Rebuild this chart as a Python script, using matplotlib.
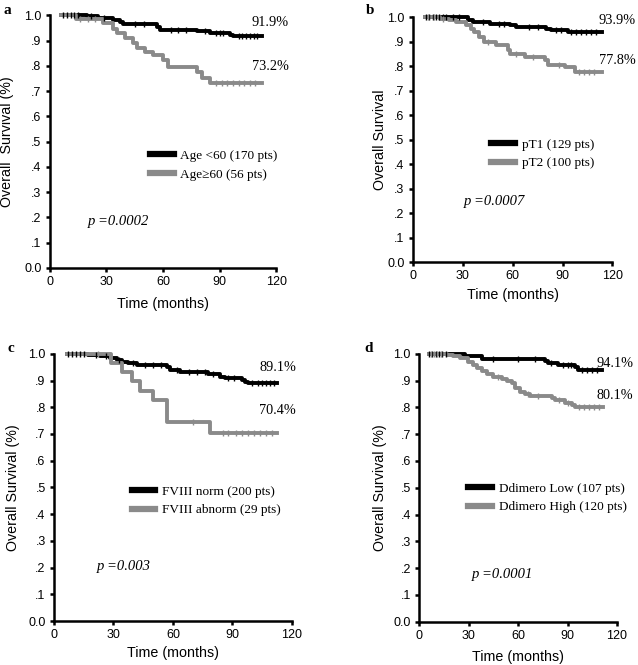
import matplotlib.pyplot as plt
import numpy as np

plt.rcParams['font.family'] = ['Liberation Sans', 'DejaVu Sans']
SERIF = ['Liberation Serif', 'DejaVu Serif']

# ---- data (time in months, survival fraction) ----
# a: age
a_low_t = [6, 19.5, 25.7, 33.6, 37.2, 39, 56.6, 58.4, 77.9, 85, 95.6, 97.3, 112.5]
a_low_s = [1.0, 0.997, 0.990, 0.981, 0.972, 0.964, 0.955, 0.943, 0.936, 0.929, 0.922, 0.919, 0.919]
a_high_t = [6, 14, 28.3, 33.6, 35.4, 39.8, 44.3, 46, 50.5, 54.9, 60.2, 62.8, 77.9, 80.5, 85, 112.4]
a_high_s = [1.0, 0.985, 0.968, 0.946, 0.929, 0.909, 0.889, 0.870, 0.856, 0.843, 0.823, 0.797,
            0.777, 0.751, 0.732, 0.732]
a_low_cens = [7, 9, 11, 13, 15, 22, 29, 45, 50, 64, 68, 72, 82, 88, 90, 92, 100, 102, 104, 106, 108, 110]
a_high_cens = [16, 20, 24, 88, 91, 94, 97, 100, 103, 106, 109]

# b: pT
b_t1_t = [7.2, 33.2, 36.2, 46.2, 58.2, 62.2, 80.2, 83.2, 93.2, 113.8]
b_t1_s = [1.0, 0.990, 0.981, 0.974, 0.967, 0.960, 0.954, 0.947, 0.940, 0.939]
b_t2_t = [7.2, 16.2, 22, 26, 32, 35, 37, 40, 43, 50, 57.2, 58.2, 67.2, 79.2, 81.2, 91.2, 97.2, 113.8]
b_t2_s = [1.0, 0.995, 0.990, 0.981, 0.967, 0.954, 0.940, 0.920, 0.899, 0.886, 0.865, 0.849,
          0.838, 0.824, 0.804, 0.795, 0.778, 0.778]
b_t1_cens = [8, 10, 12, 14, 16, 18, 20, 24, 28, 42, 52, 55, 70, 75, 86, 89, 95, 98, 101, 104, 107, 110]
b_t2_cens = [9, 13, 18, 45, 62, 72, 88, 100, 103, 106, 109]

# c: FVIII
c_norm_t = [6.4, 17.3, 23.2, 28.2, 31.6, 34.1, 37.5, 41.7, 56.9, 58.5, 63.5, 77.8, 83.7, 86.2,
            94.6, 96.3, 98, 112.3]
c_norm_s = [1.0, 0.995, 0.990, 0.984, 0.978, 0.971, 0.965, 0.959, 0.950, 0.940, 0.931, 0.925,
            0.915, 0.909, 0.903, 0.894, 0.891, 0.891]
c_abn_t = [6.4, 29, 34.1, 39.2, 43.4, 49.8, 56.9, 78.7, 112.3]
c_abn_s = [1.0, 0.966, 0.931, 0.897, 0.862, 0.828, 0.743, 0.704, 0.704]
c_norm_cens = [7, 9, 11, 13, 15, 21, 26, 33, 40, 46, 50, 54, 62, 68, 72, 76, 80, 88, 91, 100, 103,
               105, 107, 109, 111]
c_abn_cens = [22, 70, 85, 88, 92, 95, 98, 101, 104, 107, 110]

# d: D-dimer
d_low_t = [5.7, 27.9, 38, 76.4, 78.4, 84.4, 94.5, 96.6, 110.7]
d_low_s = [1.0, 0.993, 0.981, 0.974, 0.965, 0.959, 0.950, 0.941, 0.941]
d_high_t = [5.7, 16.8, 20.8, 24.8, 29.9, 32.9, 35, 38, 41, 45, 50.1, 53.1, 56.2, 58.2, 61.2, 64.2,
            67.3, 80.4, 82.4, 88.5, 92.5, 94.5, 111.7]
d_high_s = [1.0, 0.996, 0.990, 0.984, 0.971, 0.959, 0.947, 0.937, 0.925, 0.915, 0.906, 0.897,
            0.891, 0.872, 0.859, 0.851, 0.843, 0.835, 0.826, 0.818, 0.810, 0.801, 0.801]
d_low_cens = [6, 8, 10, 12, 14, 16, 45, 60, 70, 80, 87, 90, 92, 99, 102, 105, 108]
d_high_cens = [7, 9, 11, 13, 48, 66, 72, 85, 90, 97, 100, 103, 106, 109]

panels = [
    dict(letter='a', rect=[0.078, 0.597, 0.355, 0.380],
         curves=[(a_low_t, a_low_s, a_low_cens), (a_high_t, a_high_s, a_high_cens)],
         labels=['Age <60 (170 pts)', 'Age\u226560 (56 pts)'],
         ends=[('91.9%', 107, 0.97), ('73.2%', 107, 0.798)],
         pval=('p =0.0002', 20.3, 0.183), leg=(0.442, 0.468),
         ylabel='Overall  Survival (%)', letter_xy=(3, 10), ylpad=43, xlpad=36),
    dict(letter='b', rect=[0.647, 0.606, 0.313, 0.368],
         curves=[(b_t1_t, b_t1_s, b_t1_cens), (b_t2_t, b_t2_s, b_t2_cens)],
         labels=['pT1 (129 pts)', 'pT2 (100 pts)'],
         ends=[('93.9%', 111.8, 0.985), ('77.8%', 111.8, 0.824)],
         pval=('p =0.0007', 30.6, 0.246), leg=(0.393, 0.505),
         ylabel='Overall Survival', letter_xy=(366, 10), ylpad=33, xlpad=33),
    dict(letter='c', rect=[0.0846, 0.066, 0.373, 0.402],
         curves=[(c_norm_t, c_norm_s, c_norm_cens), (c_abn_t, c_abn_s, c_abn_cens)],
         labels=['FVIII norm (200 pts)', 'FVIII abnorm (29 pts)'],
         ends=[('89.1%', 103.5, 0.950), ('70.4%', 103.5, 0.787)],
         pval=('p =0.003', 21.5, 0.203), leg=(0.326, 0.508),
         ylabel='Overall Survival (%)', letter_xy=(8, 349), ylpad=41, xlpad=32),
    dict(letter='d', rect=[0.657, 0.065, 0.310, 0.403],
         curves=[(d_low_t, d_low_s, d_low_cens), (d_high_t, d_high_s, d_high_cens)],
         labels=['Ddimero Low (107 pts)', 'Ddimero High (120 pts)'],
         ends=[('94.1%', 107.7, 0.963), ('80.1%', 107.7, 0.843)],
         pval=('p =0.0001', 31.9, 0.175), leg=(0.249, 0.52),
         ylabel='Overall Survival (%)', letter_xy=(364, 349), ylpad=39, xlpad=35),
]

colors = ['black', '#8a8a8a']
yticks = np.round(np.arange(0, 1.01, 0.1), 1)
ytick_labels = ['0.0', '.1', '.2', '.3', '.4', '.5', '.6', '.7', '.8', '.9', '1.0']

fig = plt.figure(figsize=(6.38, 6.65), dpi=100)

for p in panels:
    ax = fig.add_axes(p['rect'])
    handles = []
    for (t, s, cens), col in zip(p['curves'], colors):
        t = np.array(t)
        s = np.array(s)
        ax.step(t, s, where='post', color=col, lw=2.8, clip_on=False, zorder=3)
        idx = np.searchsorted(t, cens, side='right') - 1
        ax.plot(cens, s[idx], ls='none', marker='|', ms=4, mew=1.0, color=col,
                clip_on=False, zorder=4)
        handles.append(plt.Line2D([], [], color=col, lw=4.5))
    ax.legend(handles, p['labels'], loc='upper left', bbox_to_anchor=p['leg'],
              frameon=False, borderpad=0, borderaxespad=0, handlelength=1.8,
              handletextpad=0.5, labelspacing=0.5, prop={'family': SERIF, 'size': 9.5})
    for txt, x, y in p['ends']:
        ax.text(x, y, txt, fontsize=10.3, family=SERIF, va='center', ha='left')
    txt, x, y = p['pval']
    ax.text(x, y, txt, fontsize=10.5, family=SERIF, style='italic', va='center', ha='left')

    ax.set_xlim(0, 120)
    ax.set_ylim(0, 1.0)
    ax.set_xticks([0, 30, 60, 90, 120])
    ax.set_yticks(yticks)
    ax.set_yticklabels(ytick_labels)
    ax.tick_params(labelsize=9, length=3, width=1.8, pad=3)
    for side in ['top', 'right']:
        ax.spines[side].set_visible(False)
    for side in ['left', 'bottom']:
        ax.spines[side].set_linewidth(1.8)
    ax.set_xlabel('Time (months)', fontsize=10.3)
    ax.set_ylabel(p['ylabel'], fontsize=10.3)
    # place axis labels at measured offsets (pixels)
    w_px = p['rect'][2] * 638
    h_px = p['rect'][3] * 665
    ax.xaxis.set_label_coords(0.5, -p['xlpad'] / h_px)
    ax.yaxis.set_label_coords(-p['ylpad'] / w_px, 0.5)
    ax.xaxis.label.set_va('center')
    ax.yaxis.label.set_va('center')

    lx, ly = p['letter_xy']
    fig.text(lx / 638, 1 - ly / 665, p['letter'], fontsize=11, fontweight='bold',
             family=SERIF, va='center', ha='left')

fig.savefig('out.png', dpi=100)
